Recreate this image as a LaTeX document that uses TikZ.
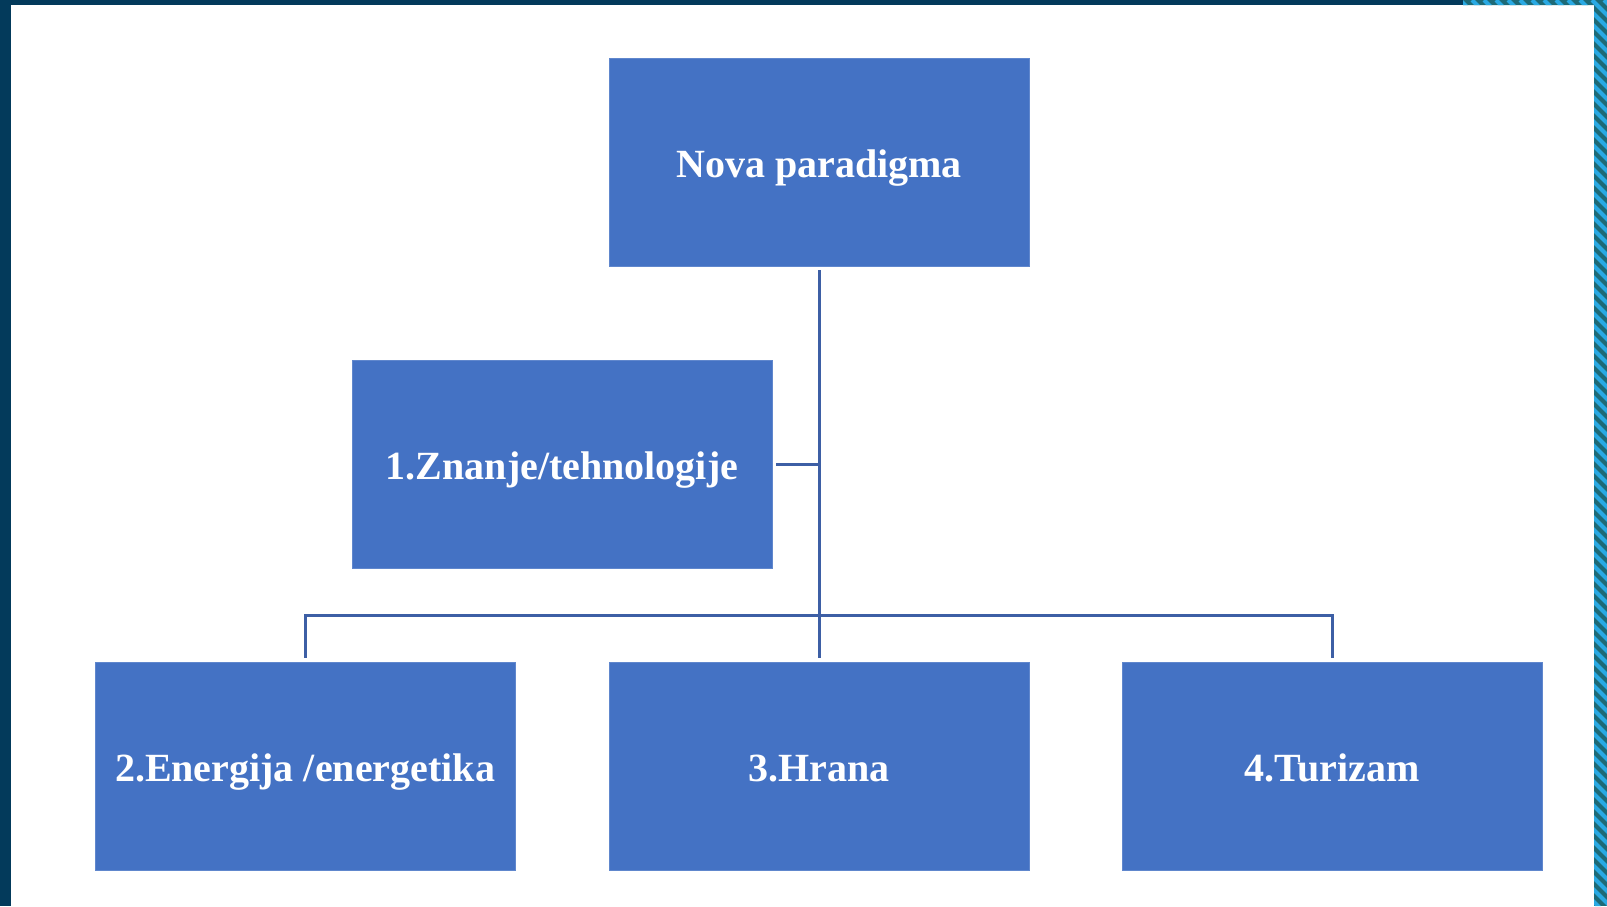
\documentclass[tikz,border=0pt]{standalone}
\usepackage{fontspec}
\setmainfont{Liberation Serif}
\usetikzlibrary{positioning}
\definecolor{boxblue}{HTML}{4472C4}
\definecolor{linkblue}{HTML}{3D5FA5}
\definecolor{framenavy}{HTML}{033A5B}
\definecolor{frameteal}{HTML}{1D6A77}
\definecolor{framesky}{HTML}{29A9E3}

\begin{document}
\begin{tikzpicture}[x=1pt, y=-1pt,
    box/.style={rectangle, fill=boxblue, draw=boxblue!85!white, minimum width=420pt, minimum height=208pt, inner sep=0pt, text height=38pt, text depth=8pt, text=white, font=\fontsize{40}{46}\selectfont\bfseries},
    link/.style={draw=linkblue, line width=3pt}
]
\useasboundingbox (0,0) rectangle (1607,906);

% frame
\fill[framenavy] (0,0) rectangle (11,906);
\fill[framenavy] (0,0) rectangle (1463,5);
\begin{scope}
  \clip (1463,0) rectangle (1607,5) (1594,0) rectangle (1607,906);
  \fill[frameteal] (1463,0) rectangle (1607,906);
  \foreach \s in {680,692,...,1610}
    \draw[framesky, line width=4pt] (\s,0) -- ++(1000,1000);
\end{scope}

\node[box] (para) at (819,162) {Nova paradigma};
\node[box] (znanje) at (562,464) {1.Znanje/tehnologije};
\node[box] (energ) at (305,766) {2.Energija /energetika};
\node[box] (hrana) at (819,766) {3.Hrana};
\node[box] (turizam) at (1332,766) {4.Turizam};

\coordinate (bus) at (819,615);

\draw[link, shorten <=4pt, shorten >=4pt] (para) -- (hrana);
\draw[link, shorten <=4pt] (znanje.east) -- (znanje.east -| para);
\draw[link, shorten <=4pt, shorten >=4pt] (energ.north) |- (bus) -| (turizam.north);

\end{tikzpicture}
\end{document}
